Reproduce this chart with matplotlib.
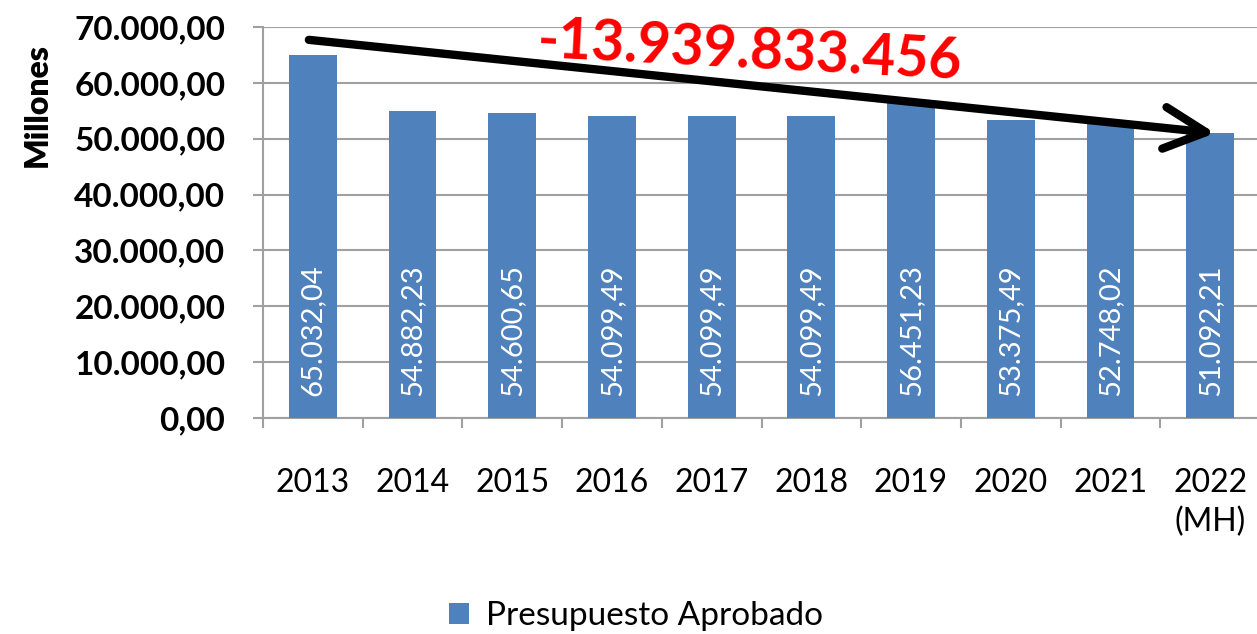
import matplotlib
matplotlib.use("Agg")
import matplotlib.pyplot as plt
from matplotlib.ticker import MultipleLocator, FixedLocator

years = ["2013", "2014", "2015", "2016", "2017", "2018", "2019", "2020", "2021", "2022\n(MH)"]
presupuesto = [65032.04, 54882.23, 54600.65, 54099.49, 54099.49, 54099.49, 56451.23, 53375.49, 52748.02, 51092.21]
diferencia = "-13.939.833.456"
serie = "Presupuesto Aprobado"

blue = "#4F81BD"
grid_c = "#A0A0A0"
plt.rcParams["font.family"] = ["Lato", "DejaVu Sans"]


def es_fmt(v):
    s = f"{v:,.2f}"
    return s.replace(",", "X").replace(".", ",").replace("X", ".")


fig = plt.figure(figsize=(12.57, 6.34), dpi=100)
ax = fig.add_axes([263 / 1257, 216 / 634, 997 / 1257, 391 / 634])

x = list(range(len(years)))
bars = ax.bar(x, presupuesto, width=0.48, color=blue, zorder=3, label=serie)

for xi, v in zip(x, presupuesto):
    ax.text(xi, 4000, es_fmt(v), rotation=90, ha="center", va="bottom",
            color="white", fontsize=21, zorder=4)

ax.set_xlim(-0.5, len(years) - 0.5)
ax.set_ylim(0, 70000)
ax.yaxis.set_major_locator(MultipleLocator(10000))
ax.yaxis.set_major_formatter(plt.FuncFormatter(lambda v, p: es_fmt(v)))
ax.grid(axis="y", color=grid_c, lw=1.5, zorder=0)

ax.set_xticks(x)
ax.set_xticklabels(years, fontsize=23, linespacing=1.35)
ax.xaxis.set_minor_locator(FixedLocator([i - 0.5 for i in range(len(years) + 1)]))
ax.tick_params(axis="x", which="major", length=0, pad=36)
ax.tick_params(axis="x", which="minor", length=7, width=1.5, color=grid_c)

ax.tick_params(axis="y", length=7, width=1.5, color=grid_c, pad=20)
for lab in ax.get_yticklabels():
    lab.set_fontsize(24)
    lab.set_fontweight("bold")

for s in ["top", "right"]:
    ax.spines[s].set_visible(False)
for s in ["left", "bottom"]:
    ax.spines[s].set_color(grid_c)
    ax.spines[s].set_linewidth(1.5)

ax.set_ylabel("Millones", fontsize=23, fontweight="heavy")
ax.yaxis.set_label_coords(-0.212, 0.8)

# flecha de tendencia
ax.annotate("", xy=(9.05, 51000), xytext=(-0.04, 67700),
            arrowprops=dict(arrowstyle="->,head_length=1.5,head_width=0.75",
                            mutation_scale=20, color="black", lw=6, shrinkA=0, shrinkB=0,
                            capstyle="round", joinstyle="round"),
            zorder=5)
ax.text(4.38, 65600, diferencia, color="#FF0000", fontsize=41, fontweight="bold",
        ha="center", va="center", rotation=-3, zorder=6)

fig.legend(handles=[bars], labels=[serie], loc="center", bbox_to_anchor=(636 / 1257, 1 - 616 / 634),
           frameon=False, fontsize=24, handlelength=0.6, handleheight=0.6, handletextpad=0.5)

fig.savefig("out.png", dpi=100)
